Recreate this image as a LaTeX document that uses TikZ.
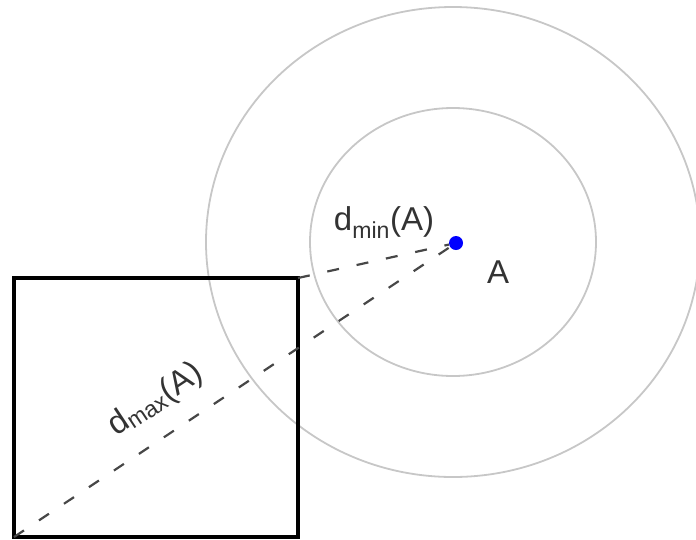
\documentclass[tikz,border=0pt]{standalone}
\usepackage{fontspec}
\setmainfont{Liberation Sans}
\begin{document}
\begin{tikzpicture}[x=1pt,y=-1pt,
			ring/.style={draw=black!22,line width=1.8pt},
			dist/.style={draw=black!72,line width=2.2pt,dash pattern=on 12pt off 18pt},
			lbl/.style={font=\fontsize{33}{36}\selectfont,text=black!80,inner sep=2pt}]
			\def \xmax{696}
			\def \ymax{539}
			\useasboundingbox (0,0) rectangle (\xmax,\ymax);
			\clip (0,0) rectangle (\xmax,\ymax);
			% Hai đường tròn quanh A
			\coordinate (O) at (453,242);
			\draw[ring] (O) ellipse [x radius=143pt, y radius=134pt];
			\draw[ring] (O) ellipse [x radius=247pt, y radius=235pt];
			% Hình vuông
			\node[draw,line width=4pt,outer sep=0pt,inner sep=0pt,
				minimum width=284pt,minimum height=259pt] (sq) at (156,407.5) {};
			% Điểm A
			\node[circle,fill=blue,inner sep=0pt,minimum size=14pt] (A) at (456,243) {};
			\node[lbl] (lA) at (498,272) {A};
			% Khoảng cách nhỏ nhất, lớn nhất
			\draw[dist] (sq.north east) -- (A);
			\node[lbl,anchor=base] (lmin) at (384,230) {d\textsubscript{min}(A)};
			\draw[dist] (sq.south west) -- (A)
				node[lbl,sloped,above=17pt,pos=0.37] (lmax) {d\textsubscript{max}(A)};
		\end{tikzpicture}
\end{document}
